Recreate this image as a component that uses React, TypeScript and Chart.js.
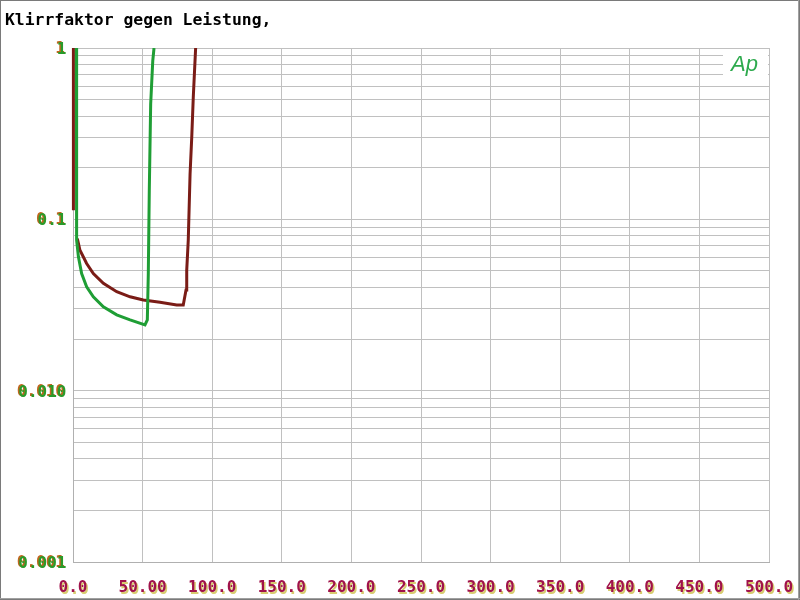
import React, { useEffect, useRef } from "react";
import { Chart, registerables } from "chart.js";

Chart.register(...registerables);

const chartTitle = "Klirrfaktor gegen Leistung,";
const logoText = "Ap";

const xTickValues = [0, 50, 100, 150, 200, 250, 300, 350, 400, 450, 500];
const xTickLabels = ["0.0", "50.00", "100.0", "150.0", "200.0", "250.0", "300.0", "350.0", "400.0", "450.0", "500.0"];

const yGridValues = [
  0.001, 0.002, 0.003, 0.004, 0.005, 0.006, 0.007, 0.008, 0.009,
  0.01, 0.02, 0.03, 0.04, 0.05, 0.06, 0.07, 0.08, 0.09,
  0.1, 0.2, 0.3, 0.4, 0.5, 0.6, 0.7, 0.8, 0.9, 1,
];
const yTickValues = [0.001, 0.01, 0.1, 1];
const yTickLabels = ["0.001", "0.010", "0.1", "1"];

// brown/red curve (power W, THD)
const redPower = [0.3, 0.3, 1.5, 3.1, 5.0, 9.8, 14.6, 21.8, 31.4, 41, 50.5, 62.5, 74.5, 79.2, 81.2, 81.7, 82.8, 84.1, 85.3, 86.4, 88.1];
const redThd = [1.0, 0.113, null, 0.0772, 0.066, 0.0552, 0.0483, 0.0423, 0.0378, 0.0353, 0.0338, 0.0328, 0.0316, 0.0316, 0.0387, 0.0505, 0.0755, 0.184, 0.301, 0.514, 1.0];

// green curve
const greenPower = [2.4, 2.4, 2.8, 3.9, 6.2, 9.8, 14.6, 21.8, 31.4, 41, 51.7, 53.4, 54.1, 54.8, 55.8, 57.3, 58.2];
const greenThd = [1.0, 0.09, 0.0755, 0.0604, 0.0483, 0.0404, 0.0353, 0.0309, 0.0277, 0.0259, 0.0242, 0.0259, 0.0483, 0.147, 0.471, 0.84, 1.0];

const toPoints = (xs: number[], ys: (number | null)[]) => xs.map((x, i) => ({ x, y: ys[i] }));

const decorPlugin = {
  id: "decor",
  beforeDraw(chart: any) {
    const ctx = chart.ctx;
    ctx.save();
    ctx.fillStyle = "#ffffff";
    ctx.fillRect(0, 0, chart.width, chart.height);
    ctx.restore();
  },
  afterDraw(chart: any) {
    const ctx = chart.ctx;
    const xs = chart.scales.x;
    const ys = chart.scales.y;
    const area = chart.chartArea;
    ctx.save();

    // logo box
    ctx.fillStyle = "#ffffff";
    ctx.fillRect(723, area.top + 1, area.right - 724, 32);
    ctx.fillStyle = "#2eaa4e";
    ctx.font = "italic 22px 'Liberation Sans'";
    ctx.textAlign = "left";
    ctx.textBaseline = "alphabetic";
    ctx.fillText(logoText, 731, 71);

    // title
    ctx.fillStyle = "#000000";
    ctx.font = "bold 16.4px 'DejaVu Sans Mono'";
    ctx.textAlign = "left";
    ctx.textBaseline = "alphabetic";
    ctx.fillText(chartTitle, 5, 25);

    // x tick labels
    ctx.font = "bold 16px 'DejaVu Sans Mono'";
    ctx.textAlign = "center";
    ctx.textBaseline = "middle";
    xTickValues.forEach((v, i) => {
      const px = xs.getPixelForValue(v);
      ctx.fillStyle = "#d8cc70";
      ctx.fillText(xTickLabels[i], px + 1.5, 589.5);
      ctx.fillStyle = "#a0124a";
      ctx.fillText(xTickLabels[i], px, 588);
    });

    // y tick labels
    ctx.textAlign = "right";
    yTickValues.forEach((v, i) => {
      const py = ys.getPixelForValue(v);
      ctx.fillStyle = "#c0661e";
      ctx.fillText(yTickLabels[i], 65, py + 1);
      ctx.fillStyle = "#2a9a2a";
      ctx.fillText(yTickLabels[i], 66.5, py + 2);
    });

    // outer frame
    ctx.strokeStyle = "#7a7a7a";
    ctx.lineWidth = 1;
    ctx.strokeRect(0.5, 0.5, chart.width - 1, chart.height - 1);
    ctx.strokeStyle = "#a0a0a0";
    ctx.beginPath();
    ctx.moveTo(chart.width - 1.5, 0);
    ctx.lineTo(chart.width - 1.5, chart.height);
    ctx.moveTo(0, chart.height - 1.5);
    ctx.lineTo(chart.width, chart.height - 1.5);
    ctx.stroke();
    ctx.restore();
  },
};

export default function App() {
  const ref = useRef<HTMLCanvasElement | null>(null);
  useEffect(() => {
    if (!ref.current) return;
    const chart = new Chart(ref.current, {
      type: "scatter",
      data: {
        datasets: [
          {
            data: toPoints(redPower, redThd),
            showLine: true,
            spanGaps: false,
            borderColor: "#7a1c16",
            borderWidth: 3,
            pointRadius: 0,
            tension: 0,
            order: 2,
            clip: { left: 3, top: 0, right: 0, bottom: 0 },
          },
          {
            data: toPoints(greenPower, greenThd),
            showLine: true,
            borderColor: "#1f9e35",
            borderWidth: 3,
            pointRadius: 0,
            tension: 0,
            order: 1,
          },
        ],
      },
      options: {
        animation: false,
        responsive: false,
        devicePixelRatio: 1,
        layout: { padding: { left: 73, top: 48, right: 31, bottom: 38 } },
        plugins: { legend: { display: false }, tooltip: { enabled: false }, title: { display: false } },
        scales: {
          x: {
            type: "linear",
            min: 0,
            max: 500,
            afterBuildTicks: (scale: any) => {
              scale.ticks = xTickValues.map((v) => ({ value: v }));
            },
            ticks: { display: false },
            grid: { color: "#c0c0c0", lineWidth: 1, drawTicks: false },
            border: { color: "#b0b0b0", width: 1 },
          },
          y: {
            type: "logarithmic",
            min: 0.001,
            max: 1,
            afterBuildTicks: (scale: any) => {
              scale.ticks = yGridValues.map((v) => ({ value: v }));
            },
            ticks: { display: false, autoSkip: false },
            grid: { color: "#c0c0c0", lineWidth: 1, drawTicks: false },
            border: { color: "#b0b0b0", width: 1 },
          },
        },
      },
      plugins: [decorPlugin],
    });
    return () => chart.destroy();
  }, []);
  return (
    <div style={{ position: "fixed", left: 0, top: 0, width: 800, height: 600 }}>
      <canvas ref={ref} width={800} height={600} style={{ width: 800, height: 600, display: "block" }} />
    </div>
  );
}
